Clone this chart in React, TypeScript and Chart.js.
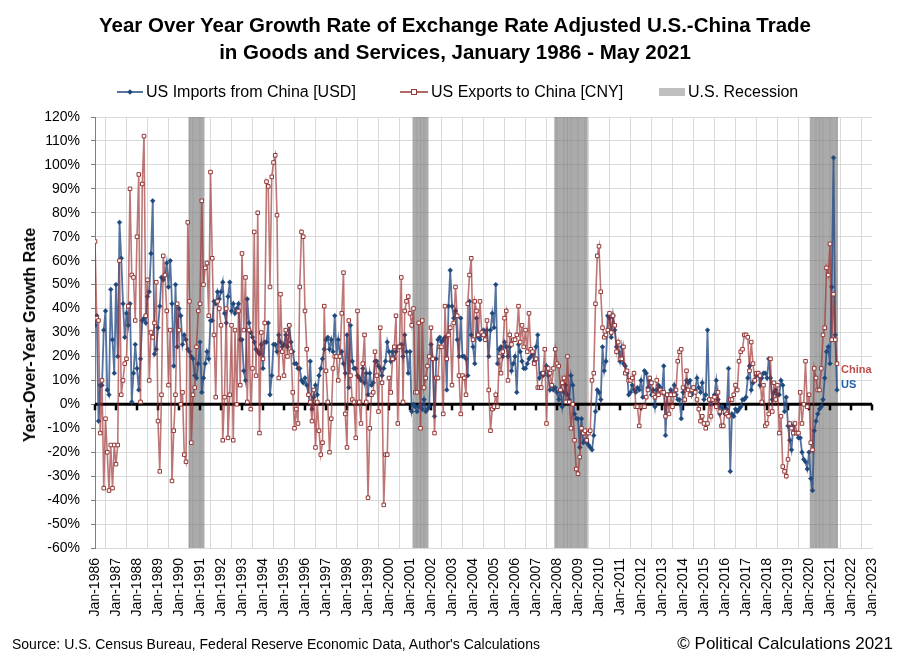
import { useEffect, useRef } from "react";
import { Chart, registerables } from "chart.js";
Chart.register(...registerables);

const firstYear = 1986;
const lastYear = 2023;
const monthNames = ["Jan", "Feb", "Mar", "Apr", "May", "Jun", "Jul", "Aug", "Sep", "Oct", "Nov", "Dec"];

// one row per year, Jan..Dec, Jan 1986 - May 2021 (percent)
const importsGrowth = [
  33, 37, -7, 8, 8, 31, 39, 6, 4, 48, 27, 13,
  50, 20, 76, 61, 42, 28, 38, 33, 42, 1, 13, 25,
  15, 6, 19, 35, 36, 34, 45, 47, 63, 85, 21, 23,
  32, 41, 53, 52, 54, 59, 49, 60, 42, 16, 50, 24,
  40, 37, 25, 29, 27, 23, 22, 20, 19, 12, 11, 17,
  26, 5, 11, 17, 22, 19, 35, 35, 43, 42, 47, 44,
  47, 51, 38, 34, 45, 51, 39, 42, 38, 40, 42, 27,
  27, 14, 10, 44, 34, 30, 28, 26, 23, 22, 21, 25,
  15, 26, 26, 34, 4, 12, 25, 25, 22, 29, 26, 24,
  25, 29, 24, 33, 26, 22, 17, 17, 15, 15, 10, 9,
  11, 8, 4, 18, -2, 3, 8, 4, 12, 15, 19, 23,
  27, 28, 23, 27, 22, 37, 20, 27, 20, 22, 17, 13,
  29, 7, 33, 18, 15, 15, 12, 11, 10, 15, 9, 13,
  4, 13, 8, 9, 18, 18, 16, 15, 12, 15, 18, 26,
  22, 18, 22, 19, 22, 24, 24, 25, 20, 29, 22, 13,
  22, -3, 0, -1, -3, -1, 0, -2, 2, -3, -2, -1,
  25, 19, -5, 19, 27, 28, 26, 27, 28, 6, 41, 56,
  41, 36, 39, 27, 20, 36, 20, 20, 19, 12, 43, 29,
  24, 17, 36, 28, 27, 29, 31, 29, 31, 20, 31, 38,
  32, 50, 17, 23, 24, 20, 26, 24, 20, 24, 14, 17,
  20, 5, 25, 22, 18, 15, 15, 17, 19, 20, 21, 18,
  24, 29, 11, 13, 12, 13, 16, 12, 6, 8, 6, 7,
  5, 2, 6, -1, 5, 8, 4, 2, 12, 8, -4, -6,
  -6, -18, -6, -16, -15, -16, -17, -18, -19, -13, -3, 6,
  5, 2, 24, 14, 18, 37, 36, 28, 37, 31, 24, 22,
  18, 24, 17, 16, 13, 4, 5, 8, 6, 5, 7, 6,
  10, 3, 14, 13, 7, 10, 4, 6, -1, 6, 8, 7,
  5, 16, -13, 4, 4, 6, 4, 8, 4, 2, 2, -6,
  5, 7, 10, 9, 10, 4, 7, 6, 11, 7, 5, 9,
  2, 4, 31, 2, 0, 2, 4, 10, 2, -4, -1, -2,
  -4, -2, 15, -28, -4, -5, -2, -3, -2, -1, 2, 2,
  3, 11, 16, 6, 9, 10, 12, 13, 8, 11, 13, 13,
  11, 19, 11, 2, 5, 6, 4, 4, 10, 8, -3, 3,
  -9, -15, -19, -9, -12, -12, -14, -14, -20, -23, -24, -27,
  -20, -31, -36, -11, -7, -4, -2, -1, 2, 11, 22, 24,
  17, 49, 103, 29, 6,
];

const exportsGrowth = [
  68, 36, 35, -12, 10, -35, -6, -20, -36, -17, -35, -17,
  -25, -17, 60, 4, 10, 17, 19, 41, 90, 54, 53, 35,
  70, 96, 1, 92, 112, 37, 52, 10, 30, 28, 34, 51,
  -7, -28, 4, 62, 54, 39, 8, 31, -32, -11, 4, 42,
  31, 0, 5, -21, -24, 76, 43, -16, 4, 7, 24, 39,
  42, 85, 50, 57, 59, 37, 97, 61, 29, 3, 43, 40,
  33, -15, 3, 40, -14, 4, 33, -15, 31, 0, 39, 8,
  63, 31, 53, 1, 31, -2, 15, 72, 12, 80, -12, 30,
  19, 34, 93, 91, 49, 95, 101, 104, 79, 11, 46, 22,
  12, 31, 20, 33, 22, 5, -10, -2, -8, 49, 72, 70,
  39, 23, 4, 1, -7, 6, -18, 1, -11, -21, -16, 41,
  14, 1, -20, -6, 15, 20, 20, 10, 20, 38, 55, -4,
  -18, 35, 12, 2, 1, -14, 39, 1, -8, 17, 29, 1,
  -39, -10, 4, 5, 22, 12, -3, 32, 9, -42, -21, -21,
  11, 5, 19, 24, 37, -8, 24, 53, 1, 39, 43, 45,
  38, 33, 40, 5, 5, 34, -10, 35, 7, 11, 16, 20,
  32, 19, -12, 11, 11, 24, 24, -4, 41, 19, 29, 32,
  8, 34, 49, 37, 12, -4, 12, 11, 4, 42, 54, 61,
  27, 43, 39, 29, 43, 30, 29, 27, 35, 6, -11, -2,
  -1, 4, -1, 20, 13, 22, 36, 39, 10, 29, 25, 27,
  27, 29, 41, 26, 33, 24, 31, 22, 38, 23, 22, 17,
  19, 7, 7, 7, 13, 23, -8, 15, 13, 8, 15, 23,
  17, 16, 6, 9, 11, 1, 20, 1, -10, 0, -15, -27,
  -29, -22, -10, -12, -11, -15, -12, -11, 10, 13, 42, 62,
  66, 47, 32, 28, 29, 31, 38, 30, 37, 33, 22, 26,
  19, 19, 24, 13, 14, 10, 10, 11, 13, -1, -1, -9,
  -1, -1, -1, 3, 6, 11, 9, 4, 3, 10, 4, 6,
  5, 5, -5, 4, -4, 4, -1, 4, 6, 18, 22, 23,
  7, 2, 14, 6, 4, 6, 7, 5, 2, -2, -7, -5,
  -8, -10, -8, 2, -5, 2, 3, -1, 5, -3, -9, -9,
  -3, -4, -5, 2, 2, 4, 8, 6, 18, 22, 23, 29,
  29, 28, 14, 26, 17, 10, 13, 13, 12, 1, 8, -9,
  -8, -4, 19, -3, 9, 2, 8, -12, -5, -26, -28, -30,
  -23, -8, -10, -12, -8, -12, -12, 5, -8, 0, 18, -1,
  4, -16, -19, 15, 11, 6, 6, 15, 29, 32, 57, 54,
  67, 27, 46, 27, 17,
];

const recessionStart = ["Jul-1990", "Mar-2001", "Dec-2007", "Feb-2020"];
const recessionEnd = ["Mar-1991", "Nov-2001", "Jun-2009", "May-2021"];

const yMin = -60;
const yMax = 120;
const yStep = 10;

const font = "'Liberation Sans', Arial, sans-serif";

function monthIndex(label: string) {
  const [mon, yr] = label.split("-");
  return (Number(yr) - firstYear) * 12 + monthNames.indexOf(mon);
}

// thick zero line with year tick marks, drawn right after the recession bars
const zeroAxisPlugin = {
  id: "zeroAxis",
  afterDatasetDraw(chart, args) {
    if (args.index !== 2) return;
    const { ctx, chartArea, scales } = chart;
    const y0 = scales.y.getPixelForValue(0);
    ctx.save();
    ctx.strokeStyle = "#000";
    ctx.lineWidth = 3;
    ctx.beginPath();
    ctx.moveTo(chartArea.left, y0);
    ctx.lineTo(chartArea.right, y0);
    ctx.stroke();
    ctx.lineWidth = 2.5;
    scales.x.ticks.forEach((t) => {
      const px = scales.x.getPixelForValue(t.value);
      ctx.beginPath();
      ctx.moveTo(px, y0);
      ctx.lineTo(px, y0 + 6);
      ctx.stroke();
    });
    ctx.restore();
  },
};

const endLabelPlugin = {
  id: "endLabels",
  afterDatasetsDraw(chart) {
    const { ctx } = chart;
    const us = chart.getDatasetMeta(0).data;
    const cn = chart.getDatasetMeta(1).data;
    const lastUs = us[us.length - 1];
    const lastCn = cn[cn.length - 1];
    ctx.save();
    ctx.font = `bold 11px ${font}`;
    ctx.textBaseline = "middle";
    ctx.fillStyle = "#C0504D";
    ctx.fillText("China", lastCn.x + 4, lastCn.y + 6);
    ctx.fillStyle = "#1F5FA8";
    ctx.fillText("US", lastUs.x + 4, lastUs.y - 5);
    ctx.restore();
  },
};

function ChinaTradeChart() {
  const chartRef = useRef(null);
  const chartInstance = useRef(null);

  useEffect(() => {
    const ctx = chartRef.current?.getContext("2d");

    const recessionBars = [];
    recessionStart.forEach((s, i) => {
      for (let m = monthIndex(s); m <= monthIndex(recessionEnd[i]); m++) {
        recessionBars.push({ x: m, y: [yMin, yMax] });
      }
    });

    chartInstance.current = new Chart(ctx, {
      type: "line",
      data: {
        datasets: [
          {
            label: "US Imports from China [USD]",
            data: importsGrowth.map((v, i) => ({ x: i, y: v })),
            borderColor: "rgba(36, 74, 132, 0.78)",
            borderWidth: 1.8,
            pointStyle: "rectRot",
            pointRadius: 2.4,
            pointBackgroundColor: "#1F497D",
            pointBorderColor: "#1F497D",
            pointBorderWidth: 0.5,
            order: 2,
          },
          {
            label: "US Exports to China [CNY]",
            data: exportsGrowth.map((v, i) => ({ x: i, y: v })),
            borderColor: "rgba(155, 45, 45, 0.65)",
            borderWidth: 1.6,
            pointStyle: "rect",
            pointRadius: 2.5,
            pointBackgroundColor: "#fff",
            pointBorderColor: "#953735",
            pointBorderWidth: 1,
            order: 1,
          },
          {
            type: "bar",
            label: "U.S. Recession",
            data: recessionBars,
            backgroundColor: "rgba(115, 115, 115, 0.6)",
            borderWidth: 0,
            barThickness: 1.3,
            grouped: false,
            order: 3,
          },
        ],
      },
      options: {
        animation: false,
        responsive: true,
        maintainAspectRatio: false,
        layout: { padding: { top: 117, right: 38, bottom: 43, left: 0 } },
        plugins: {
          legend: { display: false },
          tooltip: { enabled: false },
        },
        scales: {
          x: {
            type: "linear",
            min: 0,
            max: (lastYear - firstYear) * 12,
            offset: false,
            afterFit: (s) => {
              s.height = 70;
              s.paddingLeft = 0;
              s.paddingRight = 0;
            },
            ticks: {
              stepSize: 12,
              autoSkip: false,
              minRotation: 90,
              maxRotation: 90,
              padding: 10,
              color: "#000",
              font: { family: font, size: 14 },
              callback: (v) => "Jan-" + (firstYear + Math.round(v / 12)),
            },
            grid: { color: "#D9D9D9", lineWidth: 1, drawTicks: false },
            border: { color: "#D9D9D9" },
          },
          y: {
            min: yMin,
            max: yMax,
            afterFit: (s) => {
              s.width = 95;
            },
            ticks: {
              stepSize: yStep,
              padding: 11,
              color: "#000",
              font: { family: font, size: 14 },
              callback: (v) => v + "%",
            },
            grid: { color: "#D9D9D9", lineWidth: 1, drawTicks: true, tickLength: 4, tickColor: "#7F7F7F" },
            border: { color: "#7F7F7F", width: 1 },
          },
        },
      },
      plugins: [zeroAxisPlugin, endLabelPlugin],
    });

    return () => {
      chartInstance.current?.destroy();
    };
  }, []);

  return <canvas ref={chartRef} />;
}

function LegendItem({ icon, text, left }) {
  return (
    <div style={{ position: "absolute", left, top: 82, height: 20, display: "flex", alignItems: "center", fontSize: 16, whiteSpace: "nowrap" }}>
      {icon}
      <span style={{ marginLeft: 3 }}>{text}</span>
    </div>
  );
}

export default function App() {
  return (
    <div style={{ position: "absolute", left: 0, top: 0, width: 910, height: 661, background: "#fff", fontFamily: font, color: "#000" }}>
      <div style={{ position: "absolute", left: 0, top: 0, width: 910, height: 661 }}>
        <ChinaTradeChart />
      </div>
      <div style={{ position: "absolute", left: 0, top: 11, width: 910, textAlign: "center", fontWeight: "bold", fontSize: 20.5, lineHeight: "27px" }}>
        Year Over Year Growth Rate of Exchange Rate Adjusted U.S.-China Trade
        <br />
        in Goods and Services, January 1986 - May 2021
      </div>
      <LegendItem
        left={117}
        text="US Imports from China [USD]"
        icon={
          <svg width="26" height="10">
            <line x1="0" y1="5" x2="26" y2="5" stroke="#1F497D" strokeWidth="1.5" />
            <rect x="11" y="3" width="4" height="4" fill="#1F497D" transform="rotate(45 13 5)" />
          </svg>
        }
      />
      <LegendItem
        left={400}
        text="US Exports to China [CNY]"
        icon={
          <svg width="28" height="10">
            <line x1="0" y1="5" x2="28" y2="5" stroke="#953735" strokeWidth="1.5" />
            <rect x="11.5" y="2.5" width="5" height="5" fill="#fff" stroke="#953735" strokeWidth="1" />
          </svg>
        }
      />
      <LegendItem
        left={659}
        text="U.S. Recession"
        icon={
          <svg width="26" height="10">
            <rect x="0" y="1" width="26" height="8" fill="#BFBFBF" />
          </svg>
        }
      />
      <div
        style={{
          position: "absolute",
          left: 30,
          top: 335,
          transform: "translate(-50%, -50%) rotate(-90deg)",
          fontWeight: "bold",
          fontSize: 16,
          whiteSpace: "nowrap",
        }}
      >
        Year-Over-Year Growth Rate
      </div>
      <div style={{ position: "absolute", left: 12, top: 636, fontSize: 14, whiteSpace: "nowrap" }}>
        Source: U.S. Census Bureau, Federal Reserve Economic Data, Author's Calculations
      </div>
      <div style={{ position: "absolute", right: 17, top: 634, fontSize: 17, whiteSpace: "nowrap" }}>
        © Political Calculations 2021
      </div>
    </div>
  );
}
